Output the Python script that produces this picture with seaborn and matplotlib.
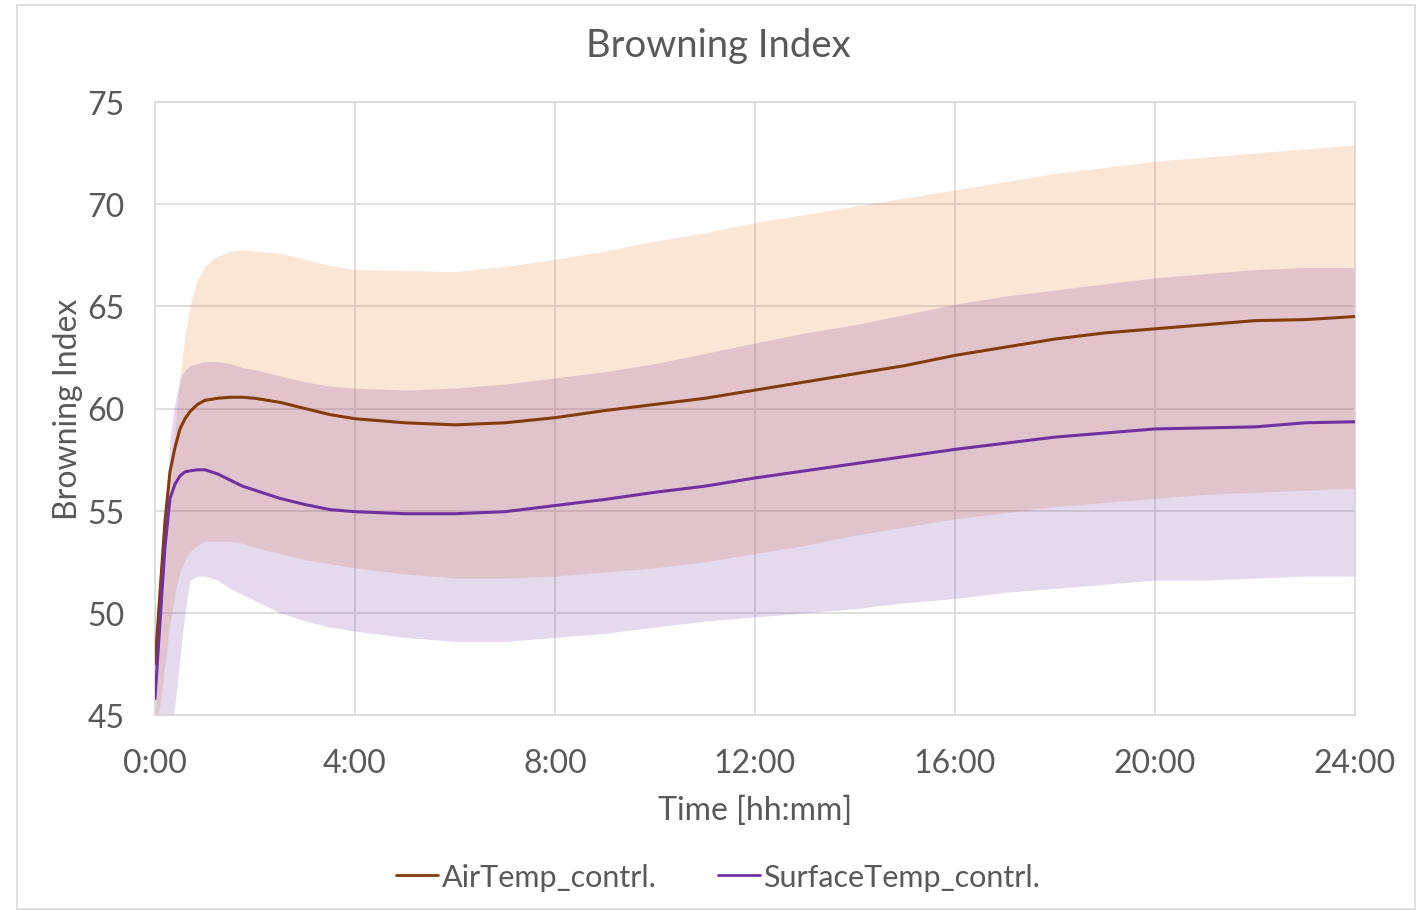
import numpy as np
import pandas as pd
import matplotlib
matplotlib.use("Agg")
import matplotlib.pyplot as plt
from matplotlib.patches import Rectangle
from matplotlib.lines import Line2D
import seaborn as sns

# ---- data (hours since start) ----
time_h = [0, 0.1, 0.2, 0.3, 0.4, 0.5, 0.6, 0.7, 0.85, 1.0, 1.25, 1.5, 1.75, 2.0, 2.5, 3.0, 3.5,
          4, 5, 6, 7, 8, 9, 10, 11, 12, 13, 14, 15, 16, 17, 18, 19, 20, 21, 22, 23, 24]

air_mean = [47.5, 51.0, 54.5, 56.9, 58.1, 59.0, 59.5, 59.85, 60.2, 60.4, 60.5, 60.55, 60.55, 60.5, 60.3, 60.0, 59.7,
            59.5, 59.3, 59.2, 59.3, 59.55, 59.9, 60.2, 60.5, 60.9, 61.3, 61.7, 62.1, 62.6, 63.0, 63.4, 63.7, 63.9,
            64.1, 64.3, 64.35, 64.5]
air_upper = [45.0, 48.5, 52.0, 55.8, 59.0, 61.6, 63.6, 65.0, 66.3, 67.0, 67.45, 67.7, 67.75, 67.7, 67.6, 67.3, 67.0,
             66.8, 66.75, 66.7, 66.95, 67.3, 67.7, 68.2, 68.6, 69.1, 69.5, 69.9, 70.3, 70.7, 71.1, 71.5, 71.8, 72.1,
             72.3, 72.5, 72.7, 72.9]
air_lower = [44.5, 45.5, 47.5, 49.5, 51.0, 52.0, 52.6, 53.0, 53.3, 53.5, 53.5, 53.5, 53.4, 53.2, 52.9, 52.6, 52.4,
             52.2, 51.9, 51.7, 51.7, 51.8, 52.0, 52.2, 52.5, 52.9, 53.3, 53.8, 54.2, 54.6, 54.9, 55.2, 55.4, 55.6,
             55.8, 55.9, 56.0, 56.1]

surf_mean = [45.8, 49.5, 53.2, 55.6, 56.3, 56.7, 56.9, 56.95, 57.0, 57.0, 56.8, 56.5, 56.2, 56.0, 55.6, 55.3, 55.05,
             54.95, 54.85, 54.85, 54.95, 55.25, 55.55, 55.9, 56.2, 56.6, 56.95, 57.3, 57.65, 58.0, 58.3, 58.6, 58.8,
             59.0, 59.05, 59.1, 59.3, 59.35]
surf_upper = [46.0, 50.0, 54.5, 58.5, 60.3, 61.4, 61.9, 62.1, 62.2, 62.3, 62.3, 62.2, 62.0, 61.9, 61.6, 61.3, 61.1,
              61.0, 60.9, 61.0, 61.2, 61.5, 61.8, 62.2, 62.7, 63.2, 63.7, 64.1, 64.6, 65.1, 65.5, 65.8, 66.1, 66.4,
              66.6, 66.8, 66.9, 66.9]
surf_lower = [43.0, 43.0, 43.5, 44.0, 45.5, 47.8, 50.0, 51.6, 51.8, 51.8, 51.6, 51.2, 50.9, 50.6, 50.0, 49.6, 49.3,
              49.1, 48.8, 48.6, 48.6, 48.8, 49.0, 49.3, 49.6, 49.8, 50.0, 50.2, 50.5, 50.7, 51.0, 51.2, 51.4, 51.6,
              51.6, 51.7, 51.8, 51.8]

series_names = ["AirTemp_contrl.", "SurfaceTemp_contrl."]
x_ticks = [0, 4, 8, 12, 16, 20, 24]
x_tick_labels = ["0:00", "4:00", "8:00", "12:00", "16:00", "20:00", "24:00"]
y_ticks = [45, 50, 55, 60, 65, 70, 75]

# ---- styling ----
sns.set_theme(style="white")
plt.rcParams["font.family"] = ["Lato", "DejaVu Sans"]
TXT = "#595959"
GRID = "#D9D9D9"
line_colors = ["#843C0C", "#7030A0"]
fill_colors = ["#ED7D31", "#7030A0"]

fig = plt.figure(figsize=(14.22, 9.12), dpi=100)
ax = fig.add_axes([155 / 1422, 1 - 716 / 912, 1200 / 1422, 613 / 912])

df = pd.DataFrame({
    "time": time_h * 2,
    "value": air_mean + surf_mean,
    "series": [series_names[0]] * len(time_h) + [series_names[1]] * len(time_h),
})

ax.fill_between(time_h, air_lower, air_upper, color=fill_colors[0], alpha=0.2, linewidth=0, zorder=1)
ax.fill_between(time_h, surf_lower, surf_upper, color=fill_colors[1], alpha=0.18, linewidth=0, zorder=1)

sns.lineplot(data=df, x="time", y="value", hue="series", palette=line_colors,
             linewidth=2.2, ax=ax, legend=False, zorder=3)

ax.set_xlim(0, 24)
ax.set_ylim(45, 75)
ax.set_xticks(x_ticks)
ax.set_xticklabels(x_tick_labels)
ax.set_yticks(y_ticks)
ax.grid(True, color=GRID, linewidth=1.2, zorder=0)
ax.set_axisbelow(True)
for s in ax.spines.values():
    s.set_color(GRID)
    s.set_linewidth(1.2)
ax.tick_params(axis="both", length=0, labelsize=23, colors=TXT)
ax.tick_params(axis="x", pad=24)
ax.tick_params(axis="y", pad=22)

ax.set_xlabel("Time [hh:mm]", fontsize=23, color=TXT, labelpad=12)
ax.set_ylabel("Browning Index", fontsize=23, color=TXT, labelpad=3)
fig.text(0.505, 1 - 46 / 912, "Browning Index", ha="center", va="center", fontsize=27.5, color=TXT)

handles = [Line2D([0], [0], color=c, lw=2.0) for c in line_colors]
fig.legend(handles, series_names, loc="center", bbox_to_anchor=(0.505, 1 - 878 / 912), ncol=2,
           frameon=False, fontsize=22, labelcolor=TXT, handlelength=1.4, handletextpad=0.1,
           columnspacing=2.0)

fig.patches.append(Rectangle((17 / 1422, 2 / 912), (1415 - 17) / 1422, (908 - 4) / 912,
                             transform=fig.transFigure, fill=False, edgecolor=GRID, linewidth=1.2))

fig.savefig("out.png", dpi=100)
